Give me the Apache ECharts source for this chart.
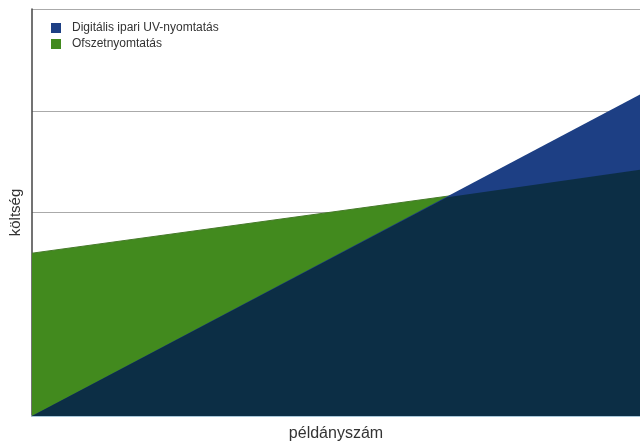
<!DOCTYPE html>
<html><head><meta charset="utf-8">
<script src="https://cdn.jsdelivr.net/npm/echarts@6/dist/echarts.min.js"></script>
<style>html,body{margin:0;padding:0;background:#fff}#c{width:640px;height:443px}</style>
</head><body><div id="c"></div>
<script>
// Data (x: share of run length 0-100, y: cost in grid units)
var seriesNames = ['Digitális ipari UV-nyomtatás', 'Ofszetnyomtatás'];
var uvX = [0, 100];
var uvY = [0, 3.16];
var offsetX = [0, 100];
var offsetY = [1.6, 2.42];
// Visible region where both areas overlap (crossing point)
var overlapX = [0, 68.3, 100];
var overlapY = [0, 2.15, 2.42];
var xName = 'példányszám';
var yName = 'költség';

function pts(xs, ys) { return xs.map(function (x, i) { return [x, ys[i]]; }); }

var chart = echarts.init(document.getElementById('c'), null, {renderer: 'canvas'});
chart.setOption({
  animation: false,
  grid: {left: 32, right: 0, top: 9, bottom: 27, outerBoundsMode: 'none', containLabel: false},
  legend: {
    orient: 'vertical', left: 46, top: 17, itemWidth: 10, itemHeight: 10, itemGap: 4,
    icon: 'rect',
    data: seriesNames,
    textStyle: {fontFamily: 'Liberation Sans', fontSize: 12, color: '#333', padding: [0, 0, 0, 6]}
  },
  xAxis: {
    type: 'value', min: 0, max: 100,
    name: xName, nameLocation: 'middle', nameGap: 10,
    nameTextStyle: {fontFamily: 'Liberation Sans', fontSize: 16, color: '#333'},
    axisLine: {show: true, lineStyle: {color: '#a9d2ea', width: 1.5}},
    axisTick: {show: false}, axisLabel: {show: false}, splitLine: {show: false}
  },
  yAxis: {
    type: 'value', min: 0, max: 4, interval: 1,
    name: yName, nameLocation: 'middle', nameGap: 9,
    nameTextStyle: {fontFamily: 'Liberation Sans', fontSize: 15, color: '#333'},
    axisLine: {show: true, lineStyle: {color: '#444', width: 1.5}},
    axisTick: {show: false}, axisLabel: {show: false},
    splitLine: {show: true, lineStyle: {color: '#aaa', width: 1}}
  },
  series: [
    {
      name: seriesNames[1], type: 'line', data: pts(offsetX, offsetY), z: 2,
      symbol: 'none', color: '#428a1e',
      lineStyle: {color: '#467a2a', width: 1},
      areaStyle: {color: '#428a1e', opacity: 1}
    },
    {
      name: seriesNames[0], type: 'line', data: pts(uvX, uvY), z: 3,
      symbol: 'none', color: '#1d3f84',
      lineStyle: {width: 0},
      areaStyle: {color: '#1d3f84', opacity: 1}
    },
    {
      name: 'overlap', type: 'line', data: pts(overlapX, overlapY), z: 4,
      symbol: 'none', lineStyle: {width: 0},
      areaStyle: {color: '#0c2e45', opacity: 1}
    }
  ]
});
</script></body></html>
